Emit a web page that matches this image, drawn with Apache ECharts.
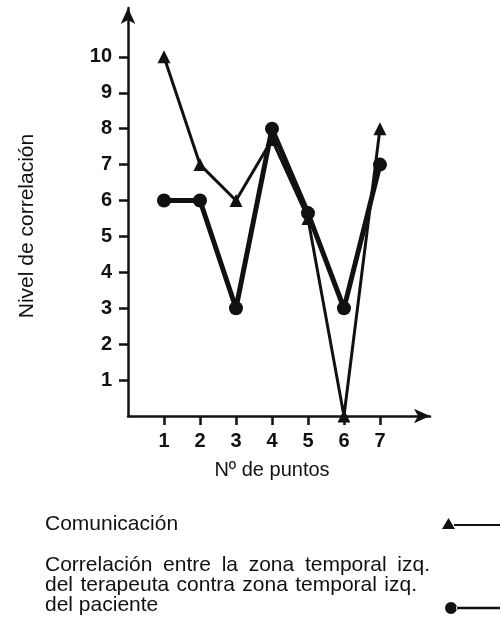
<!DOCTYPE html>
<html>
<head>
<meta charset="utf-8">
<script src="https://cdn.jsdelivr.net/npm/echarts@6/dist/echarts.min.js"></script>
<style>
  html, body { margin: 0; padding: 0; background: #fff; }
</style>
</head>
<body>
<div id="main" style="width: 500px; height: 619px;"></div>
<script>
// datos
var puntos = [1, 2, 3, 4, 5, 6, 7];
var comunicacion = [10, 7, 6, 7.7, 5.5, 0, 8];
var correlacionZona = [6, 6, 3, 8, 5.65, 3, 7];
var yTicks = [1, 2, 3, 4, 5, 6, 7, 8, 9, 10];
var xTicks = [1, 2, 3, 4, 5, 6, 7];
var nombreSerie1 = "Comunicación";
var nombreSerie2 = "Correlación entre la zona temporal izq. del terapeuta contra zona temporal izq. del paciente";
var lineasLeyenda = [
  "Correlación entre la zona temporal izq.",
  "del terapeuta contra zona temporal izq.",
  "del paciente"
];

var tinta = "#111";
var fuente = "Liberation Sans";
var fuenteLeyenda = "21px " + fuente;

function pares(xs, ys) {
  return xs.map(function (x, i) { return [x, ys[i]]; });
}

// texto justificado como en el libro: una palabra por elemento
var ctx = document.createElement("canvas").getContext("2d");
ctx.font = fuenteLeyenda;
function justificar(linea, x0, x1, top) {
  var palabras = linea.split(" ");
  var anchos = palabras.map(function (p) { return ctx.measureText(p).width; });
  var total = anchos.reduce(function (a, b) { return a + b; }, 0);
  var hueco = (x1 - x0 - total) / (palabras.length - 1);
  var x = x0;
  return palabras.map(function (p, i) {
    var el = { type: "text", left: x, top: top, style: { text: p, font: fuenteLeyenda, fill: tinta } };
    x += anchos[i] + hueco;
    return el;
  });
}

var textos = [
  { type: "text", left: 45, top: 514, style: { text: "Comunicación", font: fuenteLeyenda, fill: tinta } }
]
  .concat(justificar(lineasLeyenda[0], 45, 430, 555))
  .concat(justificar(lineasLeyenda[1], 45, 417, 575))
  .concat([{ type: "text", left: 45, top: 595, style: { text: lineasLeyenda[2], font: fuenteLeyenda, fill: tinta } }]);

var option = {
  animation: false,
  backgroundColor: "#fff",
  textStyle: { fontFamily: fuente, color: tinta },
  grid: { left: 128, right: 70, top: 8, bottom: 203, containLabel: false },
  xAxis: {
    type: "value",
    min: 0,
    max: 8.39,
    interval: 1,
    name: "Nº de puntos",
    nameLocation: "middle",
    nameGap: 44,
    nameTextStyle: { fontSize: 20, color: tinta, fontFamily: fuente, padding: [0, 14, 0, 0] },
    axisLine: { show: true, symbol: ["none", "arrow"], symbolSize: [11, 16], lineStyle: { color: tinta, width: 2.5 } },
    axisTick: { show: true, length: 9, customValues: xTicks, lineStyle: { color: tinta, width: 2.5 } },
    axisLabel: { margin: 15, customValues: xTicks, fontSize: 20, fontWeight: "bold", color: tinta, fontFamily: fuente },
    splitLine: { show: false }
  },
  yAxis: {
    type: "value",
    min: 0,
    max: 11.36,
    interval: 1,
    name: "Nivel de correlación",
    nameLocation: "middle",
    nameGap: 90,
    nameRotate: 90,
    nameTextStyle: { fontSize: 21, color: tinta, fontFamily: fuente, padding: [0, 28, 0, 0] },
    axisLine: { show: true, symbol: ["none", "arrow"], symbolSize: [11, 16], lineStyle: { color: tinta, width: 2.5 } },
    axisTick: { show: true, length: 9, customValues: yTicks, lineStyle: { color: tinta, width: 2.5 } },
    axisLabel: { margin: 16, customValues: yTicks, fontSize: 20, fontWeight: "bold", color: tinta, fontFamily: fuente },
    splitLine: { show: false }
  },
  legend: [
    {
      data: [nombreSerie1],
      left: 442, top: 518, padding: 0,
      itemWidth: 58, itemHeight: 11,
      icon: "path://M0,11L6.5,0L13,11Z M12,6H58V8H12Z",
      itemStyle: { color: tinta },
      formatter: function () { return ""; },
      selectedMode: false
    },
    {
      data: [nombreSerie2],
      left: 445, top: 602, padding: 0,
      itemWidth: 55, itemHeight: 12,
      icon: "path://M0,6a6,6 0 1,0 12,0a6,6 0 1,0 -12,0Z M11,4.7H55V7.3H11Z",
      itemStyle: { color: tinta },
      formatter: function () { return ""; },
      selectedMode: false
    }
  ],
  graphic: textos,
  series: [
    {
      name: nombreSerie1,
      type: "line",
      data: pares(puntos, comunicacion),
      symbol: "triangle",
      symbolSize: 13,
      lineStyle: { color: tinta, width: 3 },
      itemStyle: { color: tinta },
      z: 3
    },
    {
      name: nombreSerie2,
      type: "line",
      data: pares(puntos, correlacionZona),
      symbol: "circle",
      symbolSize: 14,
      lineStyle: { color: tinta, width: 5 },
      itemStyle: { color: tinta },
      z: 2
    }
  ]
};

var myChart = echarts.init(document.getElementById("main"), null, { renderer: "canvas" });
myChart.setOption(option);
</script>
</body>
</html>
